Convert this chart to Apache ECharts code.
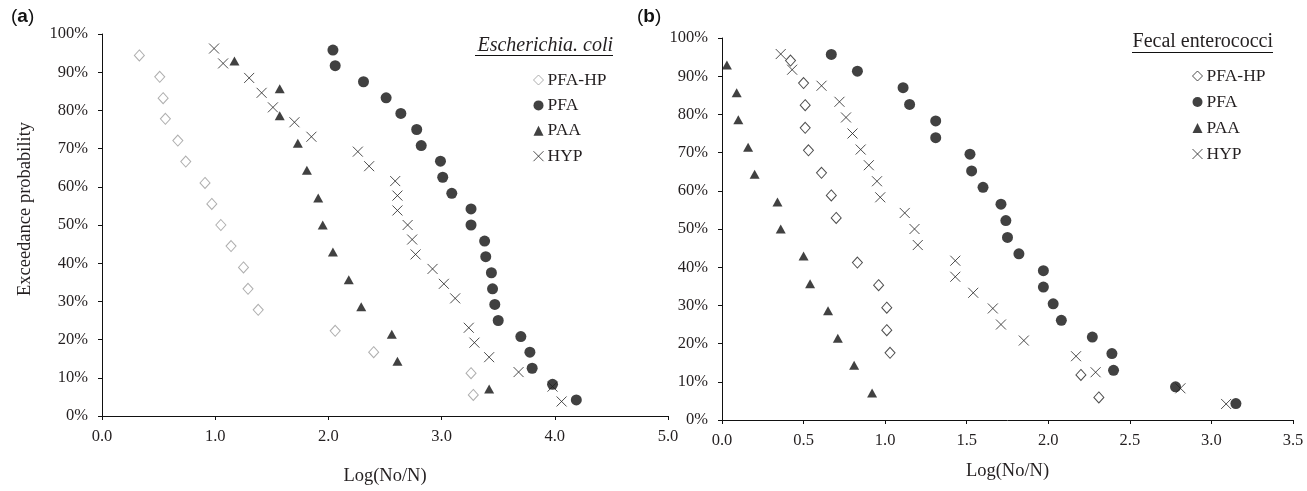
<!DOCTYPE html>
<html>
<head>
<meta charset="utf-8">
<script src="https://cdn.jsdelivr.net/npm/echarts@6/dist/echarts.min.js"></script>
<style>
html,body{margin:0;padding:0;background:#fff;}
#chart{width:1307px;height:491px;}
</style>
</head>
<body>
<div id="chart"></div>
<script>
// ---- Panel (a): Escherichia coli ----
const seriesNames = ['PFA-HP', 'PFA', 'PAA', 'HYP'];
const aPfaHpX = [0.33,0.51,0.54,0.56,0.67,0.74,0.91,0.97,1.05,1.14,1.25,1.29,1.38,2.06,2.40,3.26,3.28];
const aPfaHpY = [94.4,88.8,83.2,77.8,72.1,66.6,61.0,55.5,50.0,44.5,38.9,33.3,27.8,22.3,16.7,11.2,5.5];
const aPfaX = [2.04,2.06,2.31,2.51,2.64,2.78,2.82,2.99,3.01,3.09,3.26,3.26,3.38,3.39,3.44,3.45,3.47,3.50,3.70,3.78,3.80,3.98,4.19];
const aPfaY = [95.8,91.7,87.5,83.3,79.2,75.0,70.8,66.7,62.5,58.3,54.2,50.0,45.8,41.7,37.5,33.3,29.2,25.0,20.8,16.7,12.5,8.3,4.2];
const aPaaX = [1.17,1.57,1.57,1.73,1.81,1.91,1.95,2.04,2.18,2.29,2.56,2.61,3.42];
const aPaaY = [92.9,85.7,78.6,71.4,64.3,57.1,50.0,42.9,35.7,28.6,21.4,14.3,7.1];
const aHypX = [0.99,1.07,1.30,1.41,1.51,1.70,1.85,2.26,2.36,2.59,2.61,2.61,2.70,2.74,2.77,2.92,3.02,3.12,3.24,3.29,3.42,3.68,3.98,4.06];
const aHypY = [96.2,92.3,88.5,84.6,80.8,76.9,73.1,69.2,65.4,61.5,57.7,53.8,50.0,46.2,42.3,38.5,34.6,30.8,23.1,19.2,15.4,11.5,7.7,3.8];

// ---- Panel (b): Fecal enterococci ----
const bPfaHpX = [0.42,0.50,0.51,0.51,0.53,0.61,0.67,0.70,0.83,0.96,1.01,1.01,1.03,2.20,2.31];
const bPfaHpY = [94.1,88.2,82.4,76.5,70.6,64.7,58.8,52.9,41.2,35.3,29.4,23.5,17.6,11.8,5.9];
const bPfaX = [0.67,0.83,1.11,1.15,1.31,1.31,1.52,1.53,1.60,1.71,1.74,1.75,1.82,1.97,1.97,2.03,2.08,2.27,2.39,2.40,2.78,3.15];
const bPfaY = [95.7,91.3,87.0,82.6,78.3,73.9,69.6,65.2,60.9,56.5,52.2,47.8,43.5,39.1,34.8,30.4,26.1,21.7,17.4,13.0,8.7,4.3];
const bPaaX = [0.03,0.09,0.10,0.16,0.20,0.34,0.36,0.50,0.54,0.65,0.71,0.81,0.92];
const bPaaY = [92.9,85.7,78.6,71.4,64.3,57.1,50.0,42.9,35.7,28.6,21.4,14.3,7.1];
const bHypX = [0.36,0.43,0.61,0.72,0.76,0.80,0.85,0.90,0.95,0.97,1.12,1.18,1.20,1.43,1.43,1.54,1.66,1.71,1.85,2.17,2.29,2.81,3.09];
const bHypY = [95.8,91.7,87.5,83.3,79.2,75.0,70.8,66.7,62.5,58.3,54.2,50.0,45.8,41.7,37.5,33.3,29.2,25.0,20.8,16.7,12.5,8.3,4.2];

const yTicks = [0,10,20,30,40,50,60,70,80,90,100];
const panelTitles = ['Escherichia. coli', 'Fecal enterococci'];
const xAxisName = 'Log(No/N)';
const yAxisName = 'Exceedance probability';

const zip = (xs, ys) => xs.map((x, i) => [x, ys[i]]);
const FONT = '"Liberation Serif", "Times New Roman", serif';
const SANS = '"Liberation Sans", Arial, sans-serif';
const TXT = '#231f20';
const CROSS = 'path://M0,0L10,10M10,0L0,10';

function styles(panel) {
  return {
    'PFA-HP': { symbol: 'diamond', symbolSize: [10, 11], itemStyle: { color: '#fff', borderColor: panel === 'a' ? '#9a9a9a' : '#222', borderWidth: 1 } },
    'PFA': { symbol: 'circle', symbolSize: 11, itemStyle: { color: '#111', borderWidth: 0 } },
    'PAA': { symbol: 'triangle', symbolSize: [10, 9], itemStyle: { color: '#111', borderWidth: 0 } },
    'HYP': { symbol: CROSS, symbolSize: 10, itemStyle: { color: 'rgba(0,0,0,0)', borderColor: '#222', borderWidth: 1 } }
  };
}

function makeSeries(panel, idx, datasets) {
  const st = styles(panel);
  return seriesNames.map((n, i) => ({
    name: panel + ':' + n,
    type: 'scatter',
    xAxisIndex: idx, yAxisIndex: idx,
    symbol: st[n].symbol,
    symbolSize: st[n].symbolSize,
    itemStyle: st[n].itemStyle,
    emphasis: { disabled: true },
    data: datasets[i]
  }));
}

function legendFor(panel, left, top, gap) {
  const st = styles(panel);
  return {
    orient: 'vertical', left: left, top: top, padding: 0,
    itemWidth: 10, itemHeight: 10, itemGap: gap,
    selectedMode: false,
    textStyle: { fontFamily: FONT, fontSize: 17.5, color: TXT, lineHeight: 18, padding: [0, 0, 0, -1] },
    formatter: name => name.split(':')[1],
    data: seriesNames.map(n => ({
      name: panel + ':' + n,
      icon: st[n].symbol,
      itemStyle: Object.assign({}, st[n].itemStyle)
    }))
  };
}

function xAxis(idx, max, interval, nameGap) {
  return {
    type: 'value', gridIndex: idx, min: 0, max: max, interval: interval,
    name: xAxisName, nameLocation: 'middle', nameGap: nameGap,
    nameTextStyle: { fontFamily: FONT, fontSize: 18.5, color: TXT },
    axisLine: { show: true, lineStyle: { color: '#111', width: 1 } },
    axisTick: { show: true, length: 4, lineStyle: { color: '#111' } },
    axisLabel: { fontFamily: FONT, fontSize: 16.5, color: TXT, margin: 12, formatter: v => v.toFixed(1) },
    splitLine: { show: false }
  };
}

function yAxis(idx, withName) {
  return {
    type: 'value', gridIndex: idx, min: 0, max: 100, interval: 10,
    name: withName ? yAxisName : '', nameLocation: 'middle', nameGap: 67, nameRotate: 90,
    nameTextStyle: { fontFamily: FONT, fontSize: 18.5, color: TXT, padding: [0, 0, 0, 32] },
    axisLine: { show: true, lineStyle: { color: '#111', width: 1 } },
    axisTick: { show: true, length: 4, lineStyle: { color: '#111' } },
    axisLabel: { fontFamily: FONT, fontSize: 16.5, color: TXT, margin: 14,
      formatter: v => (yTicks.indexOf(v) >= 0 ? v + '%' : '') },
    splitLine: { show: false }
  };
}

function panelLabel(letter, left) {
  return { type: 'text', left: left, top: 7, style: { text: '{p|(}{b|' + letter + '}{p|)}', rich: {
    p: { fontFamily: SANS, fontSize: 19, fill: '#111' },
    b: { fontFamily: SANS, fontSize: 19, fontWeight: 'bold', fill: '#111' } } } };
}

const chart = echarts.init(document.getElementById('chart'), null, { renderer: 'canvas' });
chart.setOption({
  animation: false,
  backgroundColor: '#fff',
  grid: [
    { left: 102, top: 34, width: 566, height: 384 },
    { left: 722, top: 38, width: 571, height: 382 }
  ],
  xAxis: [xAxis(0, 5, 1, 51), xAxis(1, 3.5, 0.5, 42)],
  yAxis: [yAxis(0, true), yAxis(1, false)],
  legend: [legendFor('a', 533, 71, 7.4), legendFor('b', 1192, 67, 8)],
  series: [].concat(
    makeSeries('a', 0, [zip(aPfaHpX, aPfaHpY), zip(aPfaX, aPfaY), zip(aPaaX, aPaaY), zip(aHypX, aHypY)]),
    makeSeries('b', 1, [zip(bPfaHpX, bPfaHpY), zip(bPfaX, bPfaY), zip(bPaaX, bPaaY), zip(bHypX, bHypY)])
  ),
  graphic: [
    panelLabel('a', 11),
    panelLabel('b', 637),
    { type: 'text', right: 1307 - 613, top: 36, style: { text: panelTitles[0], fontFamily: FONT, fontStyle: 'italic', fontSize: 20, fill: TXT } },
    { type: 'line', shape: { x1: 475, y1: 55.5, x2: 613, y2: 55.5 }, style: { stroke: '#111', lineWidth: 1 } },
    { type: 'text', right: 1307 - 1273, top: 32, style: { text: panelTitles[1], fontFamily: FONT, fontSize: 20, fill: TXT } },
    { type: 'line', shape: { x1: 1132, y1: 52.5, x2: 1273, y2: 52.5 }, style: { stroke: '#111', lineWidth: 1 } }
  ]
});
</script>
</body>
</html>
